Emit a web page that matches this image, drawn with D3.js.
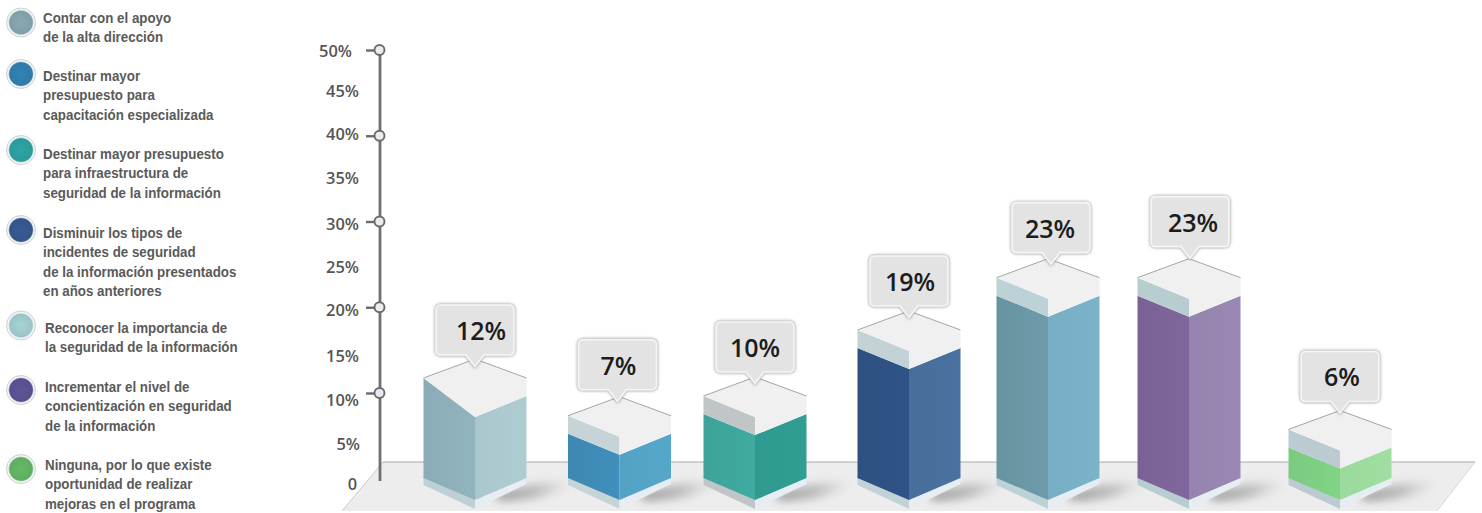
<!DOCTYPE html>
<html><head><meta charset="utf-8">
<script src="https://cdn.jsdelivr.net/npm/d3@7"></script>
<style>html,body{margin:0;padding:0;background:#fff}svg{display:block}</style>
</head><body><div id="c"></div>
<script>
const categories = ["Contar con el apoyo|de la alta dirección","Destinar mayor|presupuesto para|capacitación especializada","Destinar mayor presupuesto|para infraestructura de|seguridad de la información","Disminuir los tipos de|incidentes de seguridad|de la información presentados|en años anteriores","Reconocer la importancia de|la seguridad de la información","Incrementar el nivel de|concientización en seguridad|de la información","Ninguna, por lo que existe|oportunidad de realizar|mejoras en el programa"];
const valueLabels = ["12%","7%","10%","19%","23%","23%","6%"];
// bar heights as read against the axis in the picture
const barLevels = [12.1,7.7,10,17.7,23.8,23.8,6.1];
const tickLabelValues = [0,5,10,15,20,25,30,35,40,45,50];
const tickLabelPixels = [484,444,400,356,310,267,224,178,134,91,51];
const majorTicks = [10,20,30,40,50];
const leftFace = ["#8fb1bb","#3f8cb8","#3fa89e","#2f5285","#6b98a6","#7e6499","#7fd084"];
const rightFace = ["#a9c7cd","#53a2c4","#2f9a8f","#486e9b","#78aec3","#9484ae","#9bd99c"];
const bandLeft = ["url(#lf0)","#c6d4d8","#c0c6c7","#c2d2d6","#bcd2d6","#b8cdd0","#bccad2"];
const bandBottom = ["#bcd0d6","#c6d4d8","#c0c6c7","#c2d2d6","#bcd2d6","#b8cdd0","#bccad2"];
const legendFill = ["#7f9ea8","#2f7aa8","#2a9a9a","#34558a","#9cc4c8","#574f8e","#5fad62"];
const barCenters = [475,619.5,755,909,1048,1189,1340];
const calloutCenters = [475,617.5,755,909,1051,1190,1340];
const calloutLift = [73,76,74,74,75,81,78];
const legendIconY = [22.5,74,150,230,325.5,390,469];
const legendTextY = [18,76,154,233,328,387,465];
const legendTextX = [43,43,43,43,45,45,45];

const W=1482,H=513;
const svg=d3.select("#c").append("svg").attr("width",W).attr("height",H);
const defs=svg.append("defs");
const blur=(id,s)=>defs.append("filter").attr("id",id).attr("x","-50%").attr("y","-100%").attr("width","200%").attr("height","300%").append("feGaussianBlur").attr("stdDeviation",s);
blur("b4",3.5);blur("b2",1.6);blur("b5",4.5);

const grad=(id,c1,c2)=>{const g=defs.append("linearGradient").attr("id",id).attr("x1",0).attr("y1",0).attr("x2",1).attr("y2",0);
 g.append("stop").attr("offset",0).attr("stop-color",c1);g.append("stop").attr("offset",1).attr("stop-color",c2);};
const rg=(id,c)=>{const g=defs.append("radialGradient").attr("id",id);
 g.append("stop").attr("offset","0%").attr("stop-color",d3.color(c).brighter(.2));
 g.append("stop").attr("offset","78%").attr("stop-color",c);
 g.append("stop").attr("offset","88%").attr("stop-color","#f6f8f9");
 g.append("stop").attr("offset","100%").attr("stop-color","#e6eaec");};
legendFill.forEach((c,i)=>rg("lg"+i,c));
leftFace.forEach((c,i)=>{grad("lf"+i,d3.color(c).darker(.08),d3.color(c).brighter(.05));grad("rf"+i,rightFace[i],d3.color(rightFace[i]).brighter(.08));});
const sg=defs.append("linearGradient").attr("id","shadow").attr("x1",0).attr("y1",0).attr("x2",1).attr("y2",0);
sg.append("stop").attr("offset",0).attr("stop-color","#707070").attr("stop-opacity",.7);
sg.append("stop").attr("offset",.55).attr("stop-color","#8a8a8a").attr("stop-opacity",.45);
sg.append("stop").attr("offset",1).attr("stop-color","#bbbbbb").attr("stop-opacity",0);

// Legend
const leg=svg.append("g");
categories.forEach((c,i)=>{
 leg.append("circle").attr("cx",21).attr("cy",legendIconY[i]).attr("r",14.5).attr("fill",`url(#lg${i})`).attr("stroke","#c4cacd").attr("stroke-width",.8);
 c.split("|").forEach((t,j)=>leg.append("text").attr("transform",`translate(${legendTextX[i]},${legendTextY[i]+j*19.4+5}) scale(.94,1)`)
   .attr("font-family","'Liberation Sans',Arial,sans-serif").attr("font-weight",700).attr("font-size",14.2).attr("fill","#5a5a5a").text(t));
});

// Scales
const y=d3.scaleLinear().domain([0,50]).range([478.75,50]);
const labelY=d3.scaleLinear().domain(tickLabelValues).range(tickLabelPixels);
const xC=d3.scaleOrdinal(d3.range(7),barCenters);
const lvlY=l=>y(l)+3;

// Floor
const floorPts=[[383,462],[1475,462],[1437,511],[342,511]];
svg.append("polygon").attr("points",floorPts.join(" ")).attr("fill","#ededed");
svg.append("line").attr("x1",383).attr("x2",1475).attr("y1",462).attr("y2",462).attr("stroke","#a9a9a9").attr("stroke-width",1.2);
svg.append("line").attr("x1",383).attr("x2",342).attr("y1",462).attr("y2",511).attr("stroke","#bdbdbd").attr("stroke-width",.8);
svg.append("line").attr("x1",1475).attr("x2",1437).attr("y1",462).attr("y2",511).attr("stroke","#cfcfcf").attr("stroke-width",.8);

// Axis
const axG=svg.append("g");
axG.append("line").attr("x1",387).attr("x2",387).attr("y1",52).attr("y2",440).attr("stroke","#999").attr("stroke-width",7).attr("opacity",.55).attr("filter","url(#b4)");
axG.append("line").attr("x1",380).attr("x2",380).attr("y1",y(50)).attr("y2",481).attr("stroke","#707070").attr("stroke-width",2.8);
const major=axG.append("g").attr("transform","translate(375,0)").call(d3.axisLeft(y).tickValues(majorTicks).tickSize(9).tickFormat(""));
major.select(".domain").remove();
major.selectAll("line").attr("stroke","#6a6a6a").attr("stroke-width",2.4);
axG.selectAll("circle.mk").data(majorTicks).join("circle").attr("class","mk").attr("cx",379.5).attr("cy",d=>y(d)).attr("r",5)
  .attr("fill",d=>d===10?"#e6e8f4":"#e9eeea").attr("stroke","#6a6a6a").attr("stroke-width",1.9);
const lab=svg.append("g").attr("transform","translate(359,0)").call(d3.axisLeft(labelY).tickValues(tickLabelValues).tickSize(0).tickPadding(0).tickFormat(d=>d===0?"0":d+"%"));
lab.select(".domain").remove();
lab.selectAll("text").attr("font-family","'Open Sans',sans-serif").attr("font-weight",600).attr("font-size",16.4).attr("fill","#555")
  .attr("dx",d=>d===50?-7:d===5?1:d===0?-2:0);

// Bars
const hw=51.5,backRise=19,frontDrop=21,band=18,baseY=482;
const poly=(g,pts,fill,stroke)=>g.append("polygon").attr("points",pts.join(" ")).attr("fill",fill).attr("stroke",stroke||"none").attr("stroke-width",stroke?.6:0);
barLevels.forEach((lv,i)=>{
 const cx=xC(i),L=cx-hw,R=cx+hw,t=lvlY(lv),g=svg.append("g");
 // shadow
 g.append("ellipse").attr("cx",R+8).attr("cy",baseY+9).attr("rx",40).attr("ry",7).attr("transform",`rotate(-10 ${R+8} ${baseY+9})`)
  .attr("fill","url(#shadow)").attr("filter","url(#b5)");
 // bottom pale band
 poly(g,[[L,baseY-6],[cx,baseY+18],[cx,baseY+27],[L,baseY+3]],bandBottom[i]);
 poly(g,[[cx,baseY+18],[R,baseY-6],[R,baseY+2],[cx,baseY+27]],"#e6eef4");
 // coloured faces
 const cTop=t+band;
 if(i===0) poly(g,[[L,t],[cx,cTop+frontDrop],[cx,baseY+18],[L,baseY-4]],`url(#lf${i})`);
 else {
  poly(g,[[L,cTop],[cx,cTop+frontDrop],[cx,baseY+18],[L,baseY-4]],`url(#lf${i})`);
  poly(g,[[L,t],[cx,t+frontDrop],[cx,cTop+frontDrop],[L,cTop]],bandLeft[i]);
 }
 poly(g,[[cx,cTop+frontDrop],[R,cTop],[R,baseY-4],[cx,baseY+18]],`url(#rf${i})`);
 // upper band, right side
 poly(g,[[cx,t+frontDrop],[R,t],[R,cTop],[cx,cTop+frontDrop]],"#f0f0f0");
 // top face
 if(i===0) poly(g,[[L,t],[cx,t-backRise],[R,t],[cx,cTop+frontDrop]],"#f0f0f0");
 else poly(g,[[L,t],[cx,t-backRise],[R,t],[cx,t+frontDrop]],"#f0f0f0");
 g.append("polyline").attr("points",[[L,t],[cx,t-backRise],[R,t]].join(" ")).attr("fill","none").attr("stroke","#8f8f8f").attr("stroke-width",.8);
 // callout
 const cc=calloutCenters[i],top=t-calloutLift[i],bw=78,bh=50,x0=cc-bw/2,tip=top+bh+11.5;
 const path=`M${x0+5},${top}H${x0+bw-5}Q${x0+bw},${top} ${x0+bw},${top+5}V${top+bh-5}Q${x0+bw},${top+bh} ${x0+bw-5},${top+bh}H${cc+9}L${cc},${tip}L${cc-9},${top+bh}H${x0+5}Q${x0},${top+bh} ${x0},${top+bh-5}V${top+5}Q${x0},${top} ${x0+5},${top}Z`;
 g.append("path").attr("d",path).attr("fill","none").attr("stroke","#9a9a9a").attr("stroke-width",2.5).attr("filter","url(#b2)");
 g.append("path").attr("d",path).attr("fill","#e3e3e3").attr("stroke","#f7f7f7").attr("stroke-width",1.6);
 g.append("text").attr("x",cc+[6,1,0,1,-1,3,2][i]).attr("y",top+26).attr("dy",".36em").attr("text-anchor","middle")
  .attr("font-family","'Open Sans',sans-serif").attr("font-weight",600).attr("font-size",25).attr("fill","#1c1c1c").text(valueLabels[i]);
});
</script></body></html>
